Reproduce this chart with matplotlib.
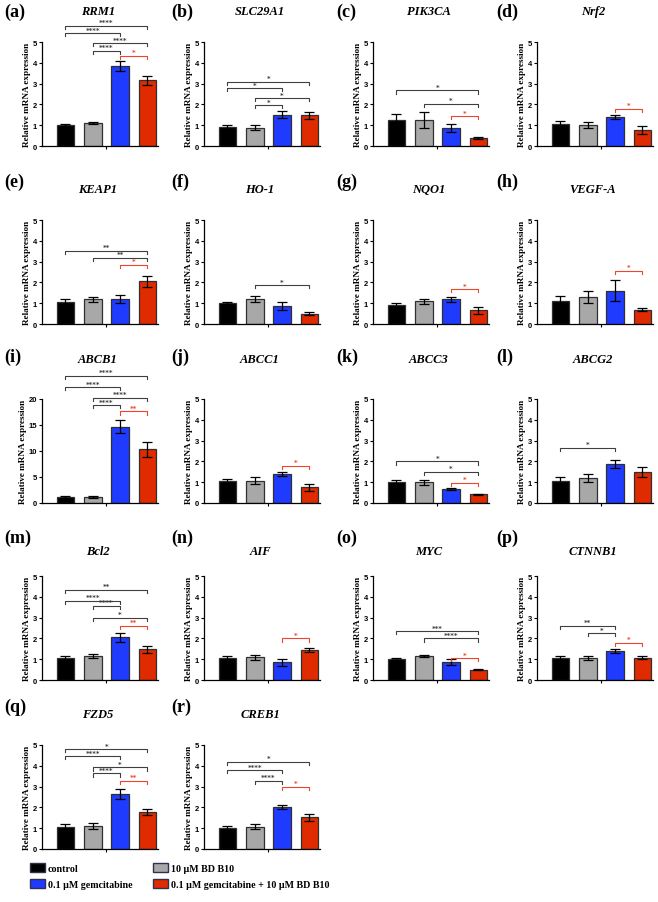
import matplotlib
matplotlib.use('Agg')
import matplotlib.pyplot as plt
from matplotlib.patches import Patch

W, H = 658, 903

genes = ['RRM1', 'SLC29A1', 'PIK3CA', 'Nrf2',
         'KEAP1', 'HO-1', 'NQO1', 'VEGF-A',
         'ABCB1', 'ABCC1', 'ABCC3', 'ABCG2',
         'Bcl2', 'AIF', 'MYC', 'CTNNB1',
         'FZD5', 'CREB1']
letters = 'abcdefghijklmnopqr'

# mean and error per group: control, BD B10, gemcitabine, gem + BD B10
means = [[1.0, 1.1, 3.85, 3.15], [0.9, 0.87, 1.5, 1.48], [1.27, 1.25, 0.87, 0.38], [1.05, 1.0, 1.4, 0.78],
         [1.05, 1.18, 1.2, 2.05], [1.0, 1.2, 0.88, 0.5], [0.93, 1.1, 1.2, 0.65], [1.1, 1.3, 1.6, 0.68],
         [1.1, 1.1, 14.7, 10.3], [1.05, 1.08, 1.38, 0.75], [1.0, 1.0, 0.68, 0.42], [1.08, 1.2, 1.88, 1.5],
         [1.05, 1.15, 2.05, 1.48], [1.05, 1.1, 0.85, 1.45], [1.0, 1.15, 0.88, 0.5], [1.05, 1.05, 1.4, 1.08],
         [1.05, 1.1, 2.65, 1.78], [1.0, 1.08, 2.02, 1.52]]
errs = [[0.05, 0.03, 0.25, 0.2], [0.12, 0.12, 0.17, 0.17], [0.28, 0.37, 0.2, 0.03], [0.13, 0.15, 0.08, 0.18],
        [0.13, 0.12, 0.2, 0.25], [0.05, 0.15, 0.2, 0.07], [0.1, 0.12, 0.12, 0.15], [0.25, 0.3, 0.5, 0.07],
        [0.2, 0.2, 1.2, 1.4], [0.12, 0.15, 0.1, 0.15], [0.1, 0.12, 0.05, 0.03], [0.17, 0.18, 0.2, 0.25],
        [0.1, 0.1, 0.2, 0.17], [0.12, 0.12, 0.18, 0.1], [0.05, 0.05, 0.15, 0.03], [0.08, 0.08, 0.1, 0.07],
        [0.15, 0.15, 0.25, 0.15], [0.1, 0.1, 0.1, 0.17]]

# significance brackets: (group a, group b, label, height, red?)
sig = [
    [(0, 3, '****', 5.77, 0), (0, 2, '****', 5.43, 0), (1, 3, '****', 4.95, 0), (1, 2, '****', 4.57, 0), (2, 3, '*', 4.33, 1)],
    [(0, 3, '*', 3.08, 0), (0, 2, '*', 2.78, 0), (1, 3, '*', 2.3, 0), (1, 2, '*', 1.97, 0)],
    [(0, 3, '*', 2.67, 0), (1, 3, '*', 2.03, 0), (2, 3, '*', 1.43, 1)],
    [(2, 3, '*', 1.8, 1)],
    [(0, 3, '**', 3.53, 0), (1, 3, '**', 3.19, 0), (2, 3, '*', 2.84, 1)],
    [(1, 3, '*', 1.86, 0)],
    [(2, 3, '*', 1.67, 1)],
    [(2, 3, '*', 2.55, 1)],
    [(0, 3, '****', 24.5, 0), (0, 2, '****', 22.3, 0), (1, 3, '****', 20.2, 0), (1, 2, '****', 18.8, 0), (2, 3, '**', 17.6, 1)],
    [(2, 3, '*', 1.78, 1)],
    [(0, 3, '*', 2.0, 0), (1, 3, '*', 1.5, 0), (2, 3, '*', 0.97, 1)],
    [(0, 2, '*', 2.65, 0)],
    [(0, 3, '**', 4.33, 0), (0, 2, '****', 3.8, 0), (1, 2, '****', 3.56, 0), (1, 3, '*', 3.0, 0), (2, 3, '**', 2.6, 1)],
    [(2, 3, '*', 2.0, 1)],
    [(0, 3, '***', 2.35, 0), (1, 3, '****', 2.0, 0), (2, 3, '*', 1.05, 1)],
    [(0, 2, '**', 2.6, 0), (1, 2, '*', 2.25, 0), (2, 3, '*', 1.78, 1)],
    [(0, 3, '*', 4.8, 0), (0, 2, '****', 4.46, 0), (1, 3, '*', 3.92, 0), (1, 2, '****', 3.63, 0), (2, 3, '**', 3.28, 1)],
    [(0, 3, '*', 4.2, 0), (0, 2, '****', 3.78, 0), (1, 2, '****', 3.28, 0), (2, 3, '*', 3.0, 1)],
]

groups = ['control', '10 \u03bcM BD B10', '0.1 \u03bcM gemcitabine', '0.1 \u03bcM gemcitabine + 10 \u03bcM BD B10']
colors = ['#000000', '#a8a8a8', '#1f3bff', '#e02a00']
red_br = '#f0452a'

serif = 'Liberation Serif'
fig = plt.figure(figsize=(W / 100, H / 100), dpi=100)

col_left = [42, 204, 373, 537]
row_top = [43, 221, 400, 577, 746]
letter_x = [4, 171, 336, 496]
letter_y = [12, 182, 357, 538, 707]
gene_y = [12, 190, 360, 552, 715]
aw, ah = 116, 104

for k, gene in enumerate(genes):
    r, c = divmod(k, 4)
    L, T = col_left[c], row_top[r]
    ax = fig.add_axes([L / W, 1 - (T + ah) / H, aw / W, ah / H])
    ymax = 20 if gene == 'ABCB1' else 5
    x = [0, 1, 2, 3]
    ax.bar(x, means[k], width=0.64, color=colors, edgecolor='#303030', linewidth=0.9, zorder=2)
    ax.errorbar(x, means[k], yerr=errs[k], fmt='none', ecolor='black', elinewidth=0.9,
                capsize=3.5, capthick=0.9, zorder=3)
    ax.set_xlim(-0.86, 3.39)
    ax.set_ylim(0, ymax)
    ax.set_yticks(range(0, ymax + 1, 5 if ymax == 20 else 1))
    ax.set_xticks([1.5])
    ax.set_xticklabels([])
    for s in ['top', 'right']:
        ax.spines[s].set_visible(False)
    for s in ['left', 'bottom']:
        ax.spines[s].set_linewidth(0.9)
    ax.tick_params(axis='both', length=2.5, width=0.8, pad=1)
    for lab in ax.get_yticklabels():
        lab.set_fontsize(5.5)
        lab.set_fontweight('bold')
        lab.set_family('Liberation Sans')
    ax.set_ylabel('Relative mRNA expression', fontsize=6.6, fontweight='bold', family=serif, labelpad=1.5)

    d = ymax * 0.03
    for a, b, lab, yy, red in sig[k]:
        col = red_br if red else '#404040'
        ax.plot([a, a, b, b], [yy - d, yy, yy, yy - d], color=col, lw=0.8, clip_on=False, zorder=4)
        ax.text((a + b) / 2, yy + ymax * 0.005, lab, ha='center', va='bottom', fontsize=5,
                fontweight='bold', color=col, clip_on=False)

    fig.text(letter_x[c] / W, 1 - letter_y[r] / H, '(%s)' % letters[k], fontsize=13,
             fontweight='bold', family=serif, ha='left', va='center')
    fig.text((L + aw / 2 - 2) / W, 1 - gene_y[r] / H, gene, fontsize=9, fontweight='bold',
             fontstyle='italic', family=serif, ha='center', va='center')

handles = [Patch(facecolor=colors[i], edgecolor='#303050', linewidth=1) for i in [0, 2, 1, 3]]
labels = [groups[i] for i in [0, 2, 1, 3]]
fig.legend(handles, labels, ncol=2, loc='upper left', bbox_to_anchor=(30 / W, 1 - 864 / H),
           frameon=False, handlelength=1.5, handleheight=0.95, handletextpad=0.3,
           columnspacing=2.0, labelspacing=0.65, borderaxespad=0, borderpad=0,
           prop={'family': serif, 'weight': 'bold', 'size': 7.2})

fig.savefig('out.png', dpi=100)
